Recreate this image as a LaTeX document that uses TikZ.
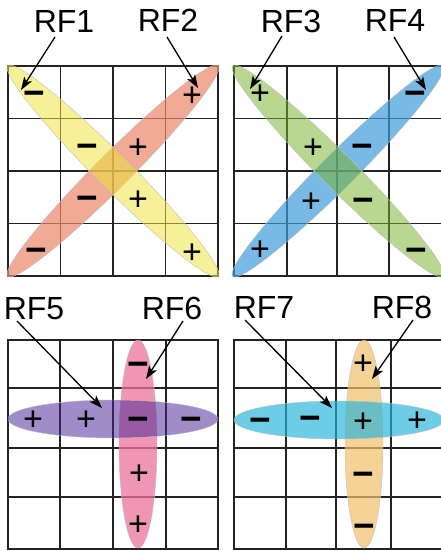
\documentclass[tikz,border=0pt]{standalone}
\usepackage{fontspec}
\setmainfont{Liberation Sans}
\usetikzlibrary{shapes.geometric,arrows.meta}
\definecolor{cYel}{RGB}{238,228,60}
\definecolor{cSal}{RGB}{234,134,105}
\definecolor{cGrn}{RGB}{121,179,44}
\definecolor{cBlu}{RGB}{62,155,219}
\definecolor{cPur}{RGB}{73,35,150}
\definecolor{cPnk}{RGB}{235,115,155}
\definecolor{cCya}{RGB}{39,181,218}
\definecolor{cOra}{RGB}{241,191,105}
\definecolor{cGrid}{RGB}{35,35,35}
\begin{document}
\begin{tikzpicture}[x=1pt,y=-1pt,
  gridline/.style={line width=1.8pt, draw=cGrid, line cap=rect},
  blob/.style={ellipse, inner sep=0pt, outer sep=0pt, draw=black!25, line width=0.4pt},
  diag/.style={blob, minimum width=298pt, minimum height=34pt},
  horiz/.style={blob, minimum width=210pt, minimum height=38pt},
  vert/.style={blob, minimum width=38pt, minimum height=208pt},
  lab/.style={font=\fontsize{32}{36}\selectfont, anchor=base, inner sep=0pt},
  pls/.style={font=\fontsize{34}{36}\selectfont, anchor=base, inner sep=0pt, yshift=-11.9pt},
  mns/.style={font=\fontsize{37}{40}\selectfont\bfseries, anchor=base, inner sep=0pt, yshift=-12.4pt},
  ptr/.style={line width=1.3pt, -{Stealth[length=13pt,width=9pt,inset=3pt]}}]
\useasboundingbox (0,0) rectangle (441,551);

% ---------- grids ----------
\foreach \x in {8,60.5,113,165.5,218} \draw[gridline] (\x,66) -- (\x,276);
\foreach \y in {66,118.5,171,223.5,276} \draw[gridline] (8,\y) -- (218,\y);
\foreach \x in {234,287,337,389,443} \draw[gridline] (\x,66) -- (\x,276);
\foreach \y in {66,118.5,171,223.5,276} \draw[gridline] (234,\y) -- (443,\y);
\foreach \x in {8,60,113,166,218} \draw[gridline] (\x,340) -- (\x,549);
\foreach \y in {340,388,448,497,549} \draw[gridline] (8,\y) -- (218,\y);
\foreach \x in {234,286,336,391,443} \draw[gridline] (\x,340) -- (\x,549);
\foreach \y in {340,388,448,497,549} \draw[gridline] (234,\y) -- (443,\y);

% ---------- receptive fields ----------
\node[diag, fill=cSal, fill opacity=0.7, rotate=45] (rf2) at (113,171) {};
\node[diag, fill=cYel, fill opacity=0.53, rotate=-45] (rf1) at (113,171) {};
\node[diag, fill=cBlu, fill opacity=0.7, rotate=45] (rf4) at (338,171) {};
\node[diag, fill=cGrn, fill opacity=0.52, rotate=-45] (rf3) at (338,171) {};
\node[vert, fill=cPnk, fill opacity=0.75] (rf6) at (138,444) {};
\node[horiz, fill=cPur, fill opacity=0.52] (rf5) at (113,419) {};
\node[vert, fill=cOra, fill opacity=0.7] (rf8) at (364,444) {};
\node[horiz, fill=cCya, fill opacity=0.67] (rf7) at (339,420) {};

% ---------- signs ----------
\node[mns] (s1a) at (34,93) {−};
\node[mns] (s1b) at (87,146) {−};
\node[pls] (s1c) at (138,199) {+};
\node[pls] (s1d) at (192,252) {+};
\node[pls] (s2a) at (192,95) {+};
\node[pls] (s2b) at (138,147) {+};
\node[mns] (s2c) at (87,198) {−};
\node[mns] (s2d) at (36,250) {−};
\node[pls] (s3a) at (260,93) {+};
\node[pls] (s3b) at (313,147) {+};
\node[mns] (s3c) at (363,200) {−};
\node[mns] (s3d) at (416,250) {−};
\node[mns] (s4a) at (415,93) {−};
\node[mns] (s4b) at (362,146) {−};
\node[pls] (s4c) at (311,201) {+};
\node[pls] (s4d) at (260,249) {+};
\node[pls] (s5a) at (33,419) {+};
\node[pls] (s5b) at (86,419) {+};
\node[mns] (s5c) at (138,419) {−};
\node[mns] (s5d) at (191,419) {−};
\node[mns] (s6a) at (138,364) {−};
\node[pls] (s6b) at (139,473) {+};
\node[pls] (s6c) at (138,524) {+};
\node[mns] (s7a) at (260,420) {−};
\node[mns] (s7b) at (310,418) {−};
\node[pls] (s7c) at (363,421) {+};
\node[pls] (s7d) at (417,420) {+};
\node[pls] (s8a) at (363,363) {+};
\node[mns] (s8b) at (363,474) {−};
\node[mns] (s8c) at (364,526) {−};

% ---------- labels ----------
\node[lab] (l1) at (64,33) {RF1};
\node[lab] (l2) at (168,32) {RF2};
\node[lab] (l3) at (291,33) {RF3};
\node[lab] (l4) at (395,32) {RF4};
\node[lab] (l5) at (34,319) {RF5};
\node[lab] (l6) at (172,319) {RF6};
\node[lab] (l7) at (264,318) {RF7};
\node[lab] (l8) at (402,318) {RF8};

% ---------- pointers ----------
\coordinate (a1s) at (55,37);  \coordinate (a1e) at (21,90);
\coordinate (a2s) at (167,37); \coordinate (a2e) at (198,88);
\coordinate (a3s) at (282,36); \coordinate (a3e) at (250,89);
\coordinate (a4s) at (394,37); \coordinate (a4e) at (426,90);
\coordinate (a5s) at (17,321); \coordinate (a5e) at (102,408);
\coordinate (a6s) at (183,321); \coordinate (a6e) at (146,379);
\coordinate (a7s) at (245,320); \coordinate (a7e) at (332,408);
\coordinate (a8s) at (413,320); \coordinate (a8e) at (372,379);
\draw[ptr] (a1s) -- (a1e);
\draw[ptr] (a2s) -- (a2e);
\draw[ptr] (a3s) -- (a3e);
\draw[ptr] (a4s) -- (a4e);
\draw[ptr] (a5s) -- (a5e);
\draw[ptr] (a6s) -- (a6e);
\draw[ptr] (a7s) -- (a7e);
\draw[ptr] (a8s) -- (a8e);
\end{tikzpicture}
\end{document}
